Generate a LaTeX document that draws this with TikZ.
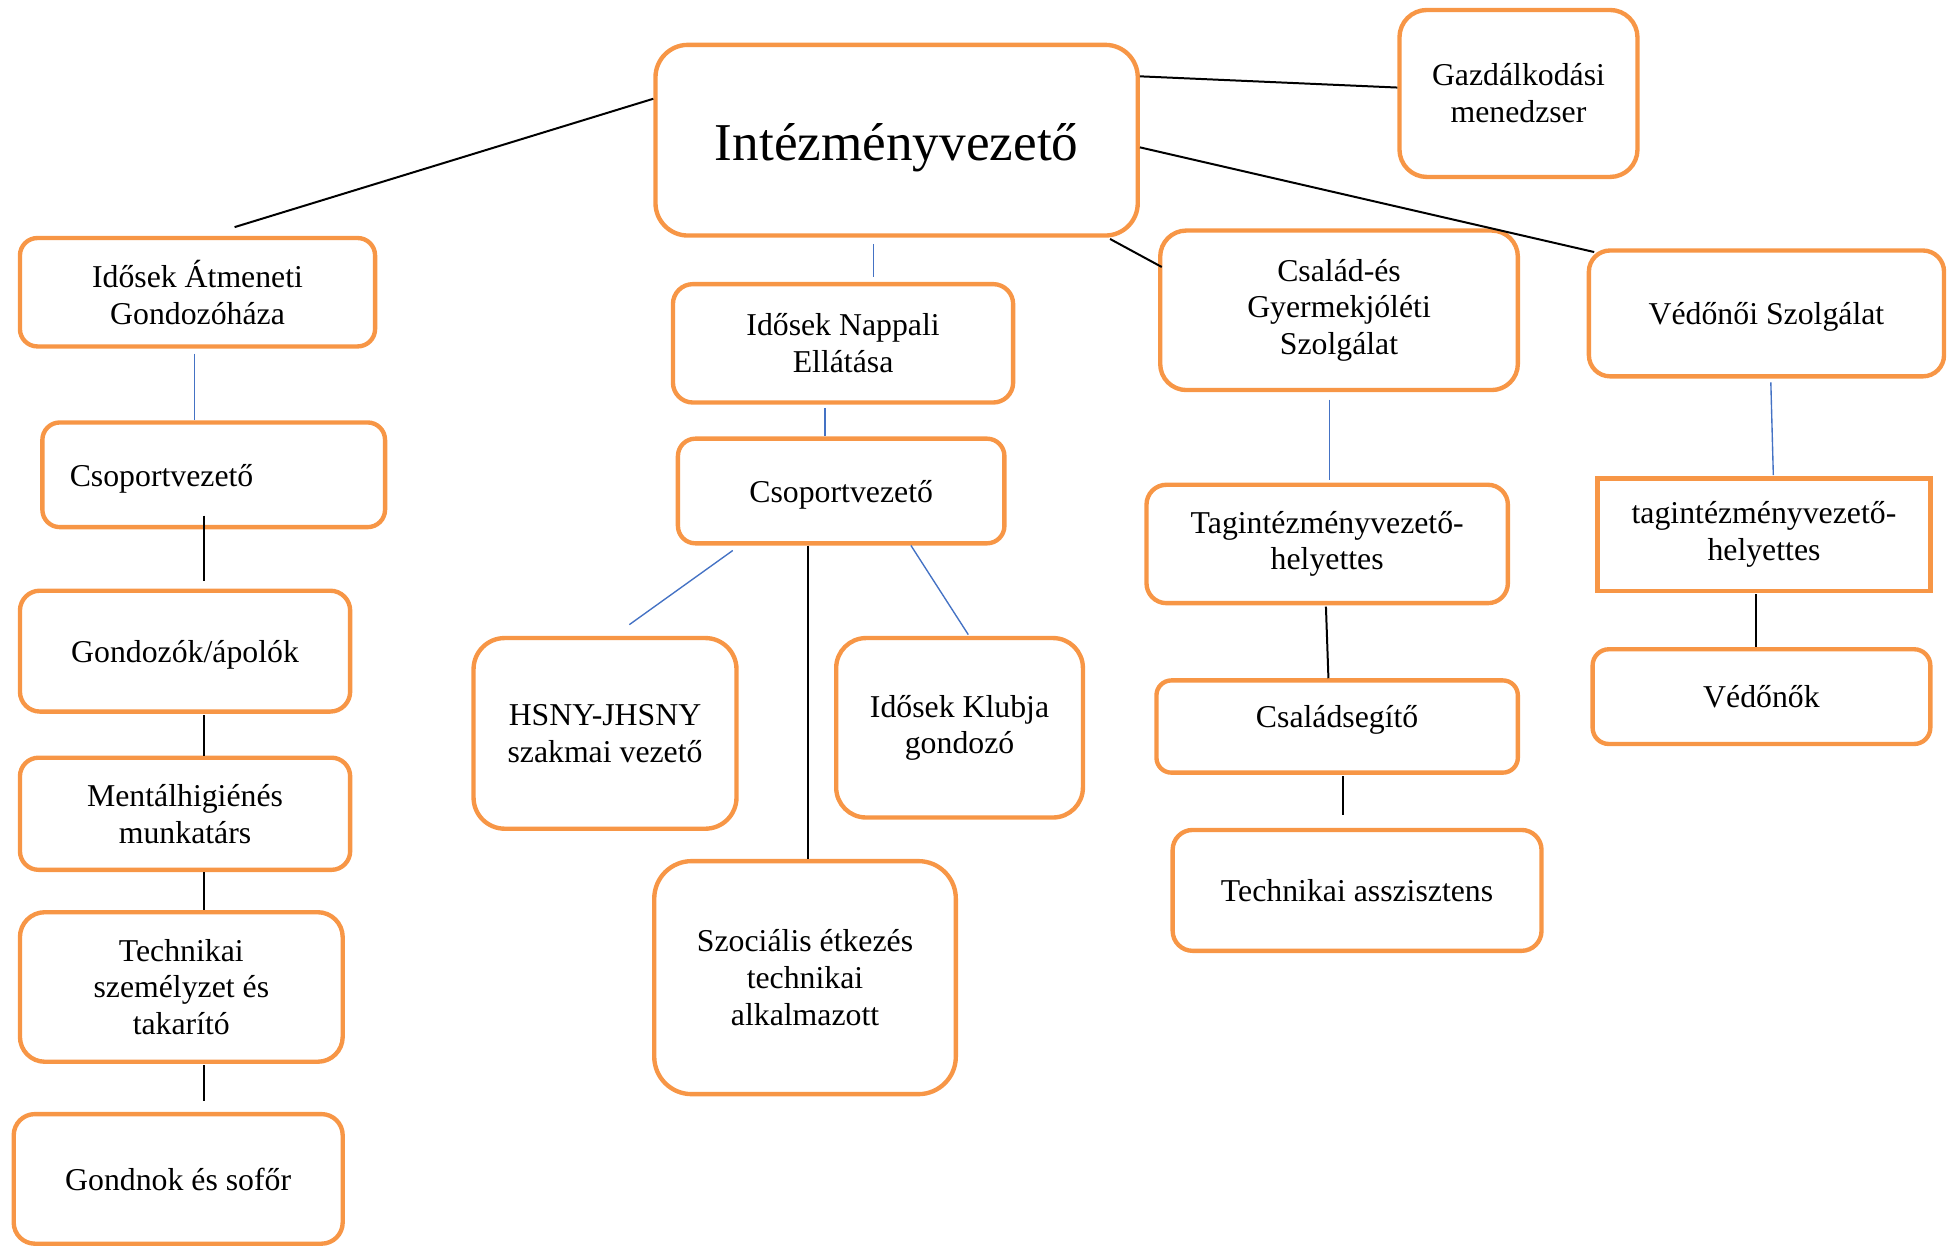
\documentclass[tikz,border=0pt]{standalone}
\usepackage{fontspec}
\setmainfont{Liberation Serif}
\definecolor{boxorange}{HTML}{F79646}
\definecolor{linkblue}{HTML}{4472C4}
\tikzset{
  obox/.style={draw=boxorange, line width=3.5pt, fill=white, align=center, inner sep=2pt,
    font=\fontsize{25.5}{29.5}\selectfont},
  lowtext/.style={text height=23.5pt, text depth=5.5pt},
  blk/.style={draw=black, line width=1.6pt},
  blu/.style={draw=linkblue, line width=1.1pt},
}
\begin{document}
\begin{tikzpicture}[x=1pt,y=-1pt]
\useasboundingbox (0,0) rectangle (1568,1001);
% top level
\node[obox, minimum width=387pt, minimum height=153pt, rounded corners=26pt,
  font=\fontsize{42.7}{48}\selectfont, text height=42pt, text depth=9pt] (boss) at (719.5,112.5) {Intézményvezető};
\node[obox, minimum width=191pt, minimum height=134pt, rounded corners=22pt] (gazd) at (1218.5,75) {Gazdálkodási\\menedzser};
\node[obox, minimum width=285pt, minimum height=87pt, rounded corners=14pt] (atg) at (158.5,234.5) {Idősek Átmeneti\\Gondozóháza};
\node[obox, minimum width=273pt, minimum height=95pt, rounded corners=16pt] (napp) at (676.5,275.5) {Idősek Nappali\\Ellátása};
\node[obox, minimum width=287pt, minimum height=128pt, rounded corners=21pt] (csal) at (1074.5,249) {Család-és\\Gyermekjóléti\\Szolgálat};
\node[obox, lowtext, minimum width=285pt, minimum height=101pt, rounded corners=17pt] (vedo) at (1417.5,251.5) {Védőnői Szolgálat};
% second level
\node[obox, lowtext, minimum width=275pt, minimum height=84pt, rounded corners=14pt, align=left,
  text width=231pt, inner xsep=22pt] (csopL) at (171.5,381) {Csoportvezető};
\node[obox, lowtext, minimum width=262pt, minimum height=84pt, rounded corners=14pt] (csopM) at (675,394) {Csoportvezető};
\node[obox, minimum width=290pt, minimum height=95pt, rounded corners=16pt] (tagL) at (1065,436.5) {Tagintézményvezető-\\helyettes};
\node[obox, minimum width=267pt, minimum height=90pt] (tagR) at (1415.5,429) {tagintézményvezető-\\helyettes};
% left column
\node[obox, lowtext, minimum width=265pt, minimum height=97pt, rounded corners=16pt] (gond) at (148.5,522.5) {Gondozók/ápolók};
\node[obox, minimum width=265pt, minimum height=90pt, rounded corners=15pt] (ment) at (148.5,653) {Mentálhigiénés\\munkatárs};
\node[obox, minimum width=259pt, minimum height=120pt, rounded corners=20pt] (tech) at (145.5,792) {Technikai\\személyzet és\\takarító};
\node[obox, lowtext, minimum width=264pt, minimum height=104pt, rounded corners=17pt] (gondnok) at (143,946) {Gondnok és sofőr};
% middle
\node[obox, minimum width=211pt, minimum height=153pt, rounded corners=25pt] (hsny) at (485.5,588.5) {HSNY-JHSNY\\szakmai vezető};
\node[obox, minimum width=198pt, minimum height=144pt, rounded corners=24pt] (klub) at (770,584) {Idősek Klubja\\gondozó};
\node[obox, minimum width=242pt, minimum height=187pt, rounded corners=30pt] (szoc) at (646,784.5) {Szociális étkezés\\technikai\\alkalmazott};
% right
\node[obox, minimum width=290pt, minimum height=74pt, rounded corners=12pt, text height=20pt, text depth=18pt] (csseg) at (1073,583) {Családsegítő};
\node[obox, minimum width=296pt, minimum height=97pt, rounded corners=16pt] (tasz) at (1089,714.5) {Technikai asszisztens};
\node[obox, minimum width=271pt, minimum height=76pt, rounded corners=13pt] (vedok) at (1413.5,559) {Védőnők};
% connectors
\draw[blk] ([yshift=-45pt]boss.north west) -- ([xshift=174pt,yshift=7pt]atg.north west);
\draw[blk] ([yshift=-27pt]boss.north east) -- ([yshift=-64pt]gazd.north west);
\draw[blk] ([yshift=-84pt]boss.north east) -- ([xshift=6pt,yshift=-3pt]vedo.north west);
\draw[blk] ([xshift=-24pt,yshift=-1pt]boss.south east) -- ([xshift=3pt,yshift=-31pt]csal.north west);
\draw[blu] ([xshift=-18.5pt,yshift=-5pt]boss.south) -- ([xshift=24.5pt,yshift=4pt]napp.north);
\draw[blu] ([xshift=-2.5pt,yshift=-4pt]atg.south) -- ([xshift=-15.5pt]csopL.north);
\draw[blk] ([xshift=-7.5pt,yshift=11pt]csopL.south) -- ([xshift=15.5pt,yshift=6pt]gond.north);
\draw[blu] ([xshift=-14.5pt,yshift=-3pt]napp.south) -- ([xshift=-13pt]csopM.north);
\draw[blu] ([xshift=-87pt,yshift=-4pt]csopM.south) -- ([xshift=19.5pt,yshift=9pt]hsny.north);
\draw[blk] ([xshift=-27pt]csopM.south) -- ([xshift=2pt]szoc.north);
\draw[blu] ([xshift=56pt]csopM.south) -- ([xshift=7pt,yshift=1pt]klub.north);
\draw[blu] ([xshift=-7.5pt,yshift=-6pt]csal.south) -- ([xshift=2pt,yshift=2pt]tagL.north);
\draw[blu] ([xshift=3.5pt,yshift=-3pt]vedo.south) -- ([xshift=7.5pt,yshift=1pt]tagR.north);
\draw[blk] ([xshift=-1pt,yshift=-1pt]tagL.south) -- ([xshift=-7pt]csseg.north);
\draw[blk] ([xshift=-6.5pt,yshift=-1pt]tagR.south) -- ([xshift=-4.5pt]vedok.north);
\draw[blk] ([xshift=5pt,yshift=-1pt]csseg.south) -- ([xshift=-11pt,yshift=10pt]tasz.north);
\draw[blk] ([xshift=15.5pt,yshift=-1pt]gond.south) -- ([xshift=15.5pt]ment.north);
\draw[blk] ([xshift=15.5pt]ment.south) -- ([xshift=18.5pt]tech.north);
\draw[blk] ([xshift=18.5pt,yshift=-1pt]tech.south) -- ([xshift=21pt,yshift=9pt]gondnok.north);
\end{tikzpicture}
\end{document}
